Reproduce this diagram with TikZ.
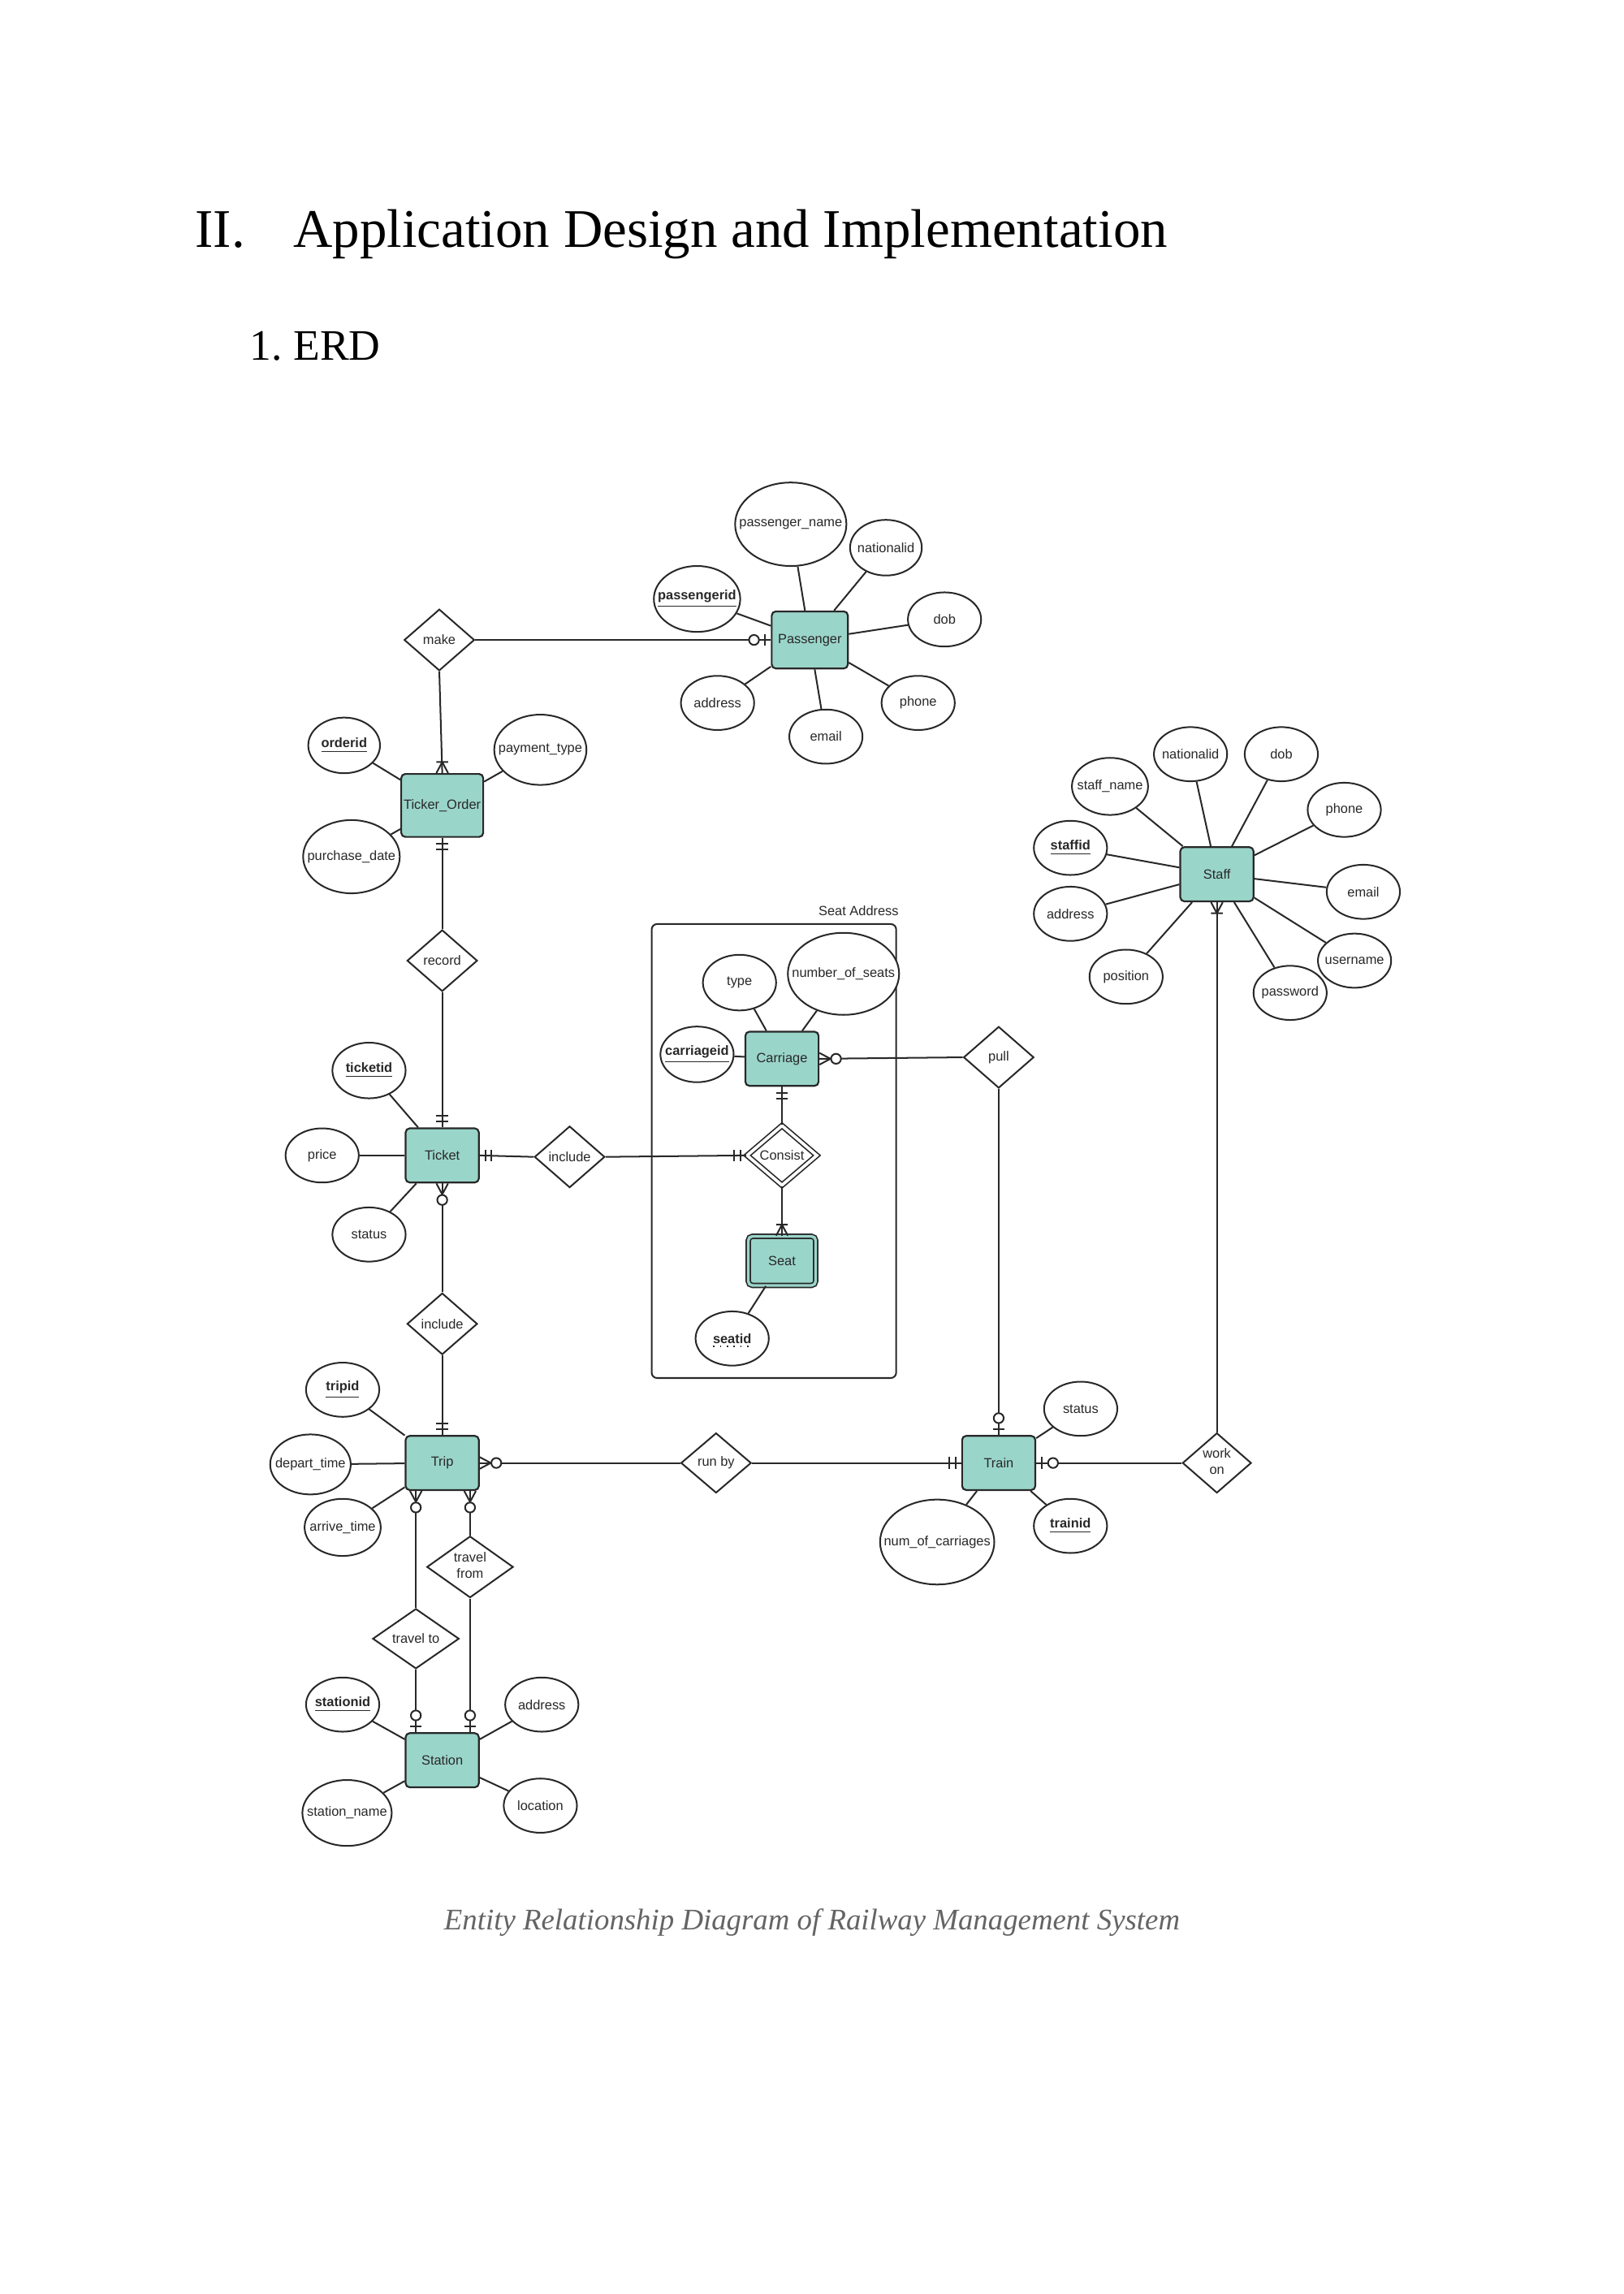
\documentclass[tikz,border=0pt]{standalone}
\usepackage{fontspec}
\setmainfont{Liberation Serif}
\setsansfont{Liberation Sans}
\usepackage{tikz}
\usetikzlibrary{shapes.geometric,positioning}
\definecolor{erteal}{RGB}{154,213,202}
\definecolor{erline}{RGB}{40,40,40}
\definecolor{capgray}{RGB}{100,100,100}
\newlength{\px}
\setlength{\px}{0.018936cm}
\newcommand{\ctr}[1]{\makebox[0pt]{#1}}
\newcommand{\pk}[1]{\underline{\textbf{#1}}}
\newcommand{\twoline}[2]{\ctr{\begin{tabular}{@{}c@{}}#1\\#2\end{tabular}}}
\tikzset{
    onlyone/.pic={\draw[conn] (4,-4) -- (4,4) (8,-4) -- (8,4);},
    zeroone/.pic={\draw[conn] (4,-4) -- (4,4); \draw[conn, fill=white] (11.5,0) circle (3.4);},
    onemany/.pic={\draw[conn] (0,-4) -- (7.5,0) -- (0,4) (7.5,-4) -- (7.5,4);},
    zeromany/.pic={\draw[conn] (0,-4) -- (7.5,0) -- (0,4); \draw[conn, fill=white] (11.3,0) circle (3.4);}
}
\begin{document}
\begin{tikzpicture}[
        x=0.018936cm, y=-0.018936cm,
        font=\sffamily\fontsize{4.9}{5.9}\selectfont,
        conn/.style={draw=erline, line width=0.6pt},
        entity/.style={rectangle, rounded corners=1.5pt, draw=erline, fill=erteal, line width=0.65pt, text=erline, inner sep=0pt, minimum width=50*\px, minimum height=37*\px},
        attr/.style 2 args={ellipse, draw=erline, fill=white, line width=0.6pt, text=erline, inner sep=0pt, minimum width=#1*\px, minimum height=#2*\px},
        att/.style={attr={50}{37}},
        rel/.style 2 args={diamond, draw=erline, fill=white, line width=0.6pt, text=erline, inner sep=0pt, minimum width=#1*\px, minimum height=#2*\px},
        relbox/.style={rel={48}{42}}
    ]
        \useasboundingbox (0,0) rectangle (1109,1566.5);

        \node[anchor=base west, inner sep=0pt, font=\rmfamily\fontsize{20}{24}\selectfont] (secnum) at (133,169) {II.};
        \node[anchor=base west, inner sep=0pt, font=\rmfamily\fontsize{20}{24}\selectfont] (sectitle) at (200,169) {Application Design and Implementation};
        \node[anchor=base west, inner sep=0pt, font=\rmfamily\fontsize{16}{19}\selectfont] (subnum) at (170,246) {1.};
        \node[anchor=base west, inner sep=0pt, font=\rmfamily\fontsize{16}{19}\selectfont] (subtitle) at (200,246) {ERD};
        \node[anchor=base, inner sep=0pt, text=capgray, font=\rmfamily\itshape\fontsize{11}{13}\selectfont] (caption) at (554.5,1318) {Entity Relationship Diagram of Railway Management System};

        \draw[conn, rounded corners=2pt] (445,631) rectangle (612,941);
        \node[anchor=base east, inner sep=0pt, text=erline] (seatlbl) at (614,625) {Seat Address};

        \node[entity, minimum width=52*\px, minimum height=39*\px] (pas) at (553,437) {Passenger};
        \node[attr={76}{57}] (pname) at (540,358) {\ctr{passenger\_name}};
        \node[attr={49}{38}] (pnat) at (605,374) {\ctr{nationalid}};
        \node[attr={59}{45}] (pid) at (476,409) {\ctr{\pk{passengerid}}};
        \node[att] (pdob) at (645,423) {\ctr{dob}};
        \node[att] (padd) at (490,480) {\ctr{address}};
        \node[att] (pmail) at (564,503) {\ctr{email}};
        \node[att] (pphone) at (627,480) {\ctr{phone}};

        \node[relbox] (make) at (300,437) {\ctr{make}};
        \node[entity, minimum width=56*\px, minimum height=43*\px] (tko) at (302,550) {Ticker\_Order};
        \node[attr={49}{38}] (oid) at (235,509) {\ctr{\pk{orderid}}};
        \node[attr={63}{48}] (opay) at (369,512) {\ctr{payment\_type}};
        \node[attr={66}{50}] (odate) at (240,585) {\ctr{purchase\_date}};

        \node[relbox] (record) at (302,656) {\ctr{record}};
        \node[entity] (tkt) at (302,789) {Ticket};
        \node[attr={50}{38}] (tid) at (252,731) {\ctr{\pk{ticketid}}};
        \node[att] (tprice) at (220,789) {\ctr{price}};
        \node[att] (tstat) at (252,843) {\ctr{status}};
        \node[relbox] (inc1) at (389,790) {\ctr{include}};

        \node[rel={48}{41}, double, double distance=1.1pt, line width=0.5pt] (consist) at (534,789) {\ctr{Consist}};
        \node[entity] (car) at (534,723) {Carriage};
        \node[attr={50}{38}] (ctype) at (505,671) {\ctr{type}};
        \node[attr={76}{56}] (cnum) at (576,665) {\ctr{number\_of\_seats}};
        \node[attr={50}{38}] (cid) at (476,720) {\ctr{\pk{carriageid}}};
        \node[entity, double=erteal, double distance=1pt, line width=0.5pt, minimum width=46*\px, minimum height=33.5*\px] (seat) at (534,861) {Seat};
        \node[att] (seid) at (500,914) {\ctr{\textbf{seatid}}};
        \draw[conn, line width=0.5pt, dotted] ([xshift=-13*\px, yshift=-2.9pt]seid.center) -- ([xshift=13*\px, yshift=-2.9pt]seid.center);
        \node[relbox] (pull) at (682,722) {\ctr{pull}};

        \node[relbox] (inc2) at (302,904) {\ctr{include}};
        \node[entity] (trip) at (302,999) {Trip};
        \node[att] (tpid) at (234,949) {\ctr{\pk{tripid}}};
        \node[attr={55}{41}] (tdep) at (212,1000) {\ctr{depart\_time}};
        \node[attr={52}{39}] (tarr) at (234,1043) {\ctr{arrive\_time}};
        \node[rel={48}{41}] (runby) at (489,999) {\ctr{run by}};

        \node[entity] (train) at (682,999) {Train};
        \node[att] (trst) at (738,962) {\ctr{status}};
        \node[attr={78}{58}] (trnum) at (640,1053) {\ctr{num\_of\_carriages}};
        \node[att] (trnid) at (731,1042) {\ctr{\pk{trainid}}};
        \node[rel={47}{41}] (workon) at (831,999) {\twoline{work}{on}};

        \node[entity] (staff) at (831,597) {Staff};
        \node[att] (snat) at (813,515) {\ctr{nationalid}};
        \node[att] (sdob) at (875,515) {\ctr{dob}};
        \node[attr={52}{39}] (sname) at (758,537) {\ctr{staff\_name}};
        \node[att] (sphone) at (918,553) {\ctr{phone}};
        \node[att] (sfid) at (731,579) {\ctr{\pk{staffid}}};
        \node[att] (smail) at (931,609) {\ctr{email}};
        \node[att] (sadd) at (731,624) {\ctr{address}};
        \node[att] (suser) at (925,656) {\ctr{username}};
        \node[att] (spos) at (769,667) {\ctr{position}};
        \node[att] (spass) at (881,678) {\ctr{password}};

        \node[rel={59}{42}] (tfrom) at (321,1070) {\twoline{travel}{from}};
        \node[rel={59}{41}] (tto) at (284,1119) {\ctr{travel to}};
        \node[entity] (stn) at (302,1202) {Station};
        \node[att] (stid) at (234,1164) {\ctr{\pk{stationid}}};
        \node[att] (stadd) at (370,1164) {\ctr{address}};
        \node[attr={61}{45}] (stname) at (237,1238) {\ctr{station\_name}};
        \node[att] (stloc) at (369,1233) {\ctr{location}};

        \draw[conn] (pas) -- (pname);
        \draw[conn] (pas) -- (pnat);
        \draw[conn] (pas) -- (pid);
        \draw[conn] (pas) -- (pdob);
        \draw[conn] (pas) -- (padd);
        \draw[conn] (pas) -- (pmail);
        \draw[conn] (pas) -- (pphone);
        \draw[conn] (tko) -- (oid);
        \draw[conn] (tko) -- (opay);
        \draw[conn] (tko) -- (odate);
        \draw[conn] (tkt) -- (tid);
        \draw[conn] (tkt) -- (tprice);
        \draw[conn] (tkt) -- (tstat);
        \draw[conn] (car) -- (ctype);
        \draw[conn] (car) -- (cnum);
        \draw[conn] (car) -- (cid);
        \draw[conn] (seat) -- (seid);
        \draw[conn] (trip) -- (tpid);
        \draw[conn] (trip) -- (tdep);
        \draw[conn] (trip) -- (tarr);
        \draw[conn] (train) -- (trst);
        \draw[conn] (train) -- (trnum);
        \draw[conn] (train) -- (trnid);
        \draw[conn] (staff) -- (snat);
        \draw[conn] (staff) -- (sdob);
        \draw[conn] (staff) -- (sname);
        \draw[conn] (staff) -- (sphone);
        \draw[conn] (staff) -- (sfid);
        \draw[conn] (staff) -- (smail);
        \draw[conn] (staff) -- (sadd);
        \draw[conn] (staff) -- (suser);
        \draw[conn] (staff) -- (spos);
        \draw[conn] (staff) -- (spass);
        \draw[conn] (stn) -- (stid);
        \draw[conn] (stn) -- (stadd);
        \draw[conn] (stn) -- (stname);
        \draw[conn] (stn) -- (stloc);

        \draw[conn] (make.east) -- (pas.west);
        \draw[conn] (make.south) -- (tko.north);
        \draw[conn] (tko.south) -- (record.north);
        \draw[conn] (record.south) -- (tkt.north);
        \draw[conn] (tkt.east) -- (inc1.west);
        \draw[conn] (inc1.east) -- (consist.west);
        \draw[conn] (car.south) -- (consist.north);
        \draw[conn] (consist.south) -- (seat.north);
        \draw[conn] (car.east) -- (pull.west);
        \draw[conn] (pull.south) -- (train.north);
        \draw[conn] (tkt.south) -- (inc2.north);
        \draw[conn] (inc2.south) -- (trip.north);
        \draw[conn] (trip.east) -- (runby.west);
        \draw[conn] (runby.east) -- (train.west);
        \draw[conn] (train.east) -- (workon.west);
        \draw[conn] (workon.north) -- (staff.south);
        \draw[conn] (tto |- trip.south) -- (tto.north);
        \draw[conn] (tto.south) -- (tto |- stn.north);
        \draw[conn] (tfrom |- trip.south) -- (tfrom.north);
        \draw[conn] (tfrom.south) -- (tfrom |- stn.north);

        \pic[rotate=180] at (pas.west) {zeroone};
        \pic[rotate=90] at (tko.north) {onemany};
        \pic[rotate=-90] at (tko.south) {onlyone};
        \pic[rotate=90] at (tkt.north) {onlyone};
        \pic at (tkt.east) {onlyone};
        \pic[rotate=180] at (consist.west) {onlyone};
        \pic[rotate=-90] at (car.south) {onlyone};
        \pic[rotate=90] at (seat.north) {onemany};
        \pic at (car.east) {zeromany};
        \pic[rotate=90] at (train.north) {zeroone};
        \pic[rotate=-90] at (tkt.south) {zeromany};
        \pic[rotate=90] at (trip.north) {onlyone};
        \pic at (trip.east) {zeromany};
        \pic[rotate=180] at (train.west) {onlyone};
        \pic at (train.east) {zeroone};
        \pic[rotate=-90] at (staff.south) {onemany};
        \pic[rotate=-90] at (tto |- trip.south) {zeromany};
        \pic[rotate=90] at (tto |- stn.north) {zeroone};
        \pic[rotate=-90] at (tfrom |- trip.south) {zeromany};
        \pic[rotate=90] at (tfrom |- stn.north) {zeroone};
    \end{tikzpicture}
\end{document}
